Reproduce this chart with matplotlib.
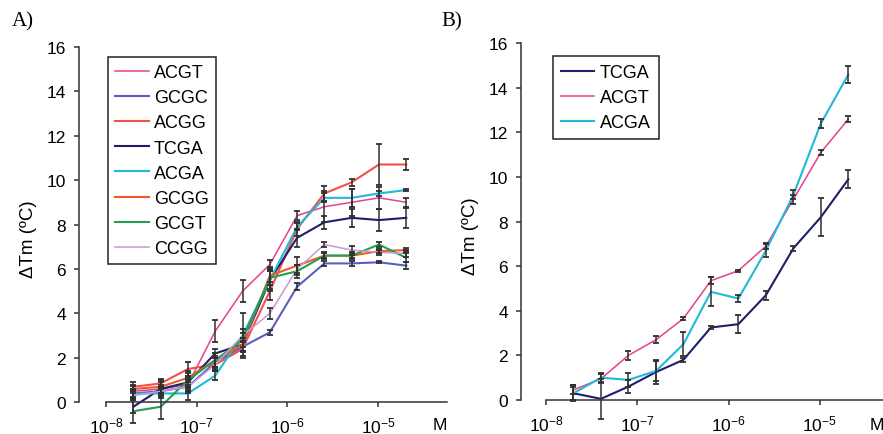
import matplotlib
matplotlib.use('Agg')
import matplotlib.pyplot as plt
from matplotlib.ticker import NullLocator, FixedLocator

plt.rcParams['font.family'] = ['Liberation Sans', 'DejaVu Sans']
plt.rcParams['mathtext.default'] = 'regular'

# ligand concentration (M), twofold dilutions
conc = [2e-8, 4e-8, 8e-8, 1.6e-7, 3.2e-7, 6.4e-7, 1.28e-6, 2.56e-6, 5.12e-6, 1.024e-5, 2.048e-5]

# panel A: dTm for each duplex
acgt_a = [0.5, 0.6, 0.8, 3.2, 5.0, 6.2, 8.4, 8.8, 9.0, 9.2, 9.0]
gcgc_a = [0.4, 0.5, 0.7, 1.8, 2.5, 3.15, 5.2, 6.25, 6.25, 6.3, 6.15]
acgg_a = [0.7, 0.85, 1.5, 1.7, 2.4, 5.0, 7.8, 9.4, 9.9, 10.7, 10.7]
tcga_a = [-0.2, 0.6, 0.9, 2.2, 2.6, 5.5, 7.4, 8.1, 8.3, 8.2, 8.3]
acga_a = [0.4, 0.4, 0.4, 1.2, 3.0, 5.5, 7.9, 9.2, 9.2, 9.4, 9.55]
gcgg_a = [0.6, 0.7, 1.1, 1.9, 2.6, 5.7, 6.15, 6.6, 6.6, 6.8, 6.85]
gcgt_a = [-0.4, -0.2, 1.0, 1.9, 2.8, 5.6, 5.9, 6.6, 6.6, 7.1, 6.5]
ccgg_a = [0.3, 0.5, 0.7, 1.7, 3.0, 4.0, 6.0, 7.1, 6.85, 6.75, 6.7]

acgt_a_err = [0.25, 0.2, 0.3, 0.5, 0.5, 0.2, 0.2, 0.7, 0.6, 0.5, 0.2]
gcgc_a_err = [0.2, 0.2, 0.3, 0.3, 0.25, 0.1, 0.15, 0.1, 0.1, 0.05, 0.15]
acgg_a_err = [0.2, 0.2, 0.3, 0.3, 0.3, 0.4, 0.3, 0.35, 0.15, 0.9, 0.25]
tcga_a_err = [0.3, 0.3, 0.3, 0.2, 0.3, 0.5, 0.4, 0.3, 0.4, 0.5, 0.45]
acga_a_err = [0.2, 0.2, 0.3, 0.2, 1.0, 0.4, 0.15, 0.2, 0.4, 0.1, 0.05]
gcgg_a_err = [0.2, 0.3, 0.3, 0.3, 0.3, 0.4, 0.4, 0.1, 0.1, 0.1, 0.1]
gcgt_a_err = [0.55, 0.55, 0.3, 0.3, 0.3, 0.3, 0.3, 0.15, 0.15, 0.1, 0.2]
ccgg_a_err = [0.2, 0.2, 0.2, 0.3, 0.3, 0.25, 0.2, 0.1, 0.2, 0.1, 0.15]

# panel B
tcga_b = [0.3, 0.05, 0.6, 1.25, 1.8, 3.25, 3.4, 4.7, 6.8, 8.2, 9.9]
acgt_b = [0.45, 0.95, 2.0, 2.7, 3.65, 5.35, 5.8, 6.9, 9.0, 11.1, 12.6]
acga_b = [0.3, 1.0, 0.9, 1.3, 2.5, 4.85, 4.55, 6.7, 9.2, 12.4, 14.6]

tcga_b_err = [0.35, 0.9, 0.3, 0.55, 0.1, 0.05, 0.4, 0.2, 0.1, 0.85, 0.4]
acgt_b_err = [0.2, 0.2, 0.2, 0.15, 0.05, 0.15, 0.05, 0.15, 0.2, 0.1, 0.15]
acga_b_err = [0.3, 0.2, 0.3, 0.45, 0.55, 0.65, 0.15, 0.3, 0.2, 0.2, 0.4]

colors = {
    'ACGT': '#e6408e',
    'GCGC': '#5a5fbf',
    'ACGG': '#f0524a',
    'TCGA': '#1e1e6e',
    'ACGA': '#22b8d8',
    'GCGG': '#f05a28',
    'GCGT': '#22a050',
    'CCGG': '#c79bd0',
}

panel_a = [('ACGT', acgt_a, acgt_a_err), ('GCGC', gcgc_a, gcgc_a_err),
           ('ACGG', acgg_a, acgg_a_err), ('TCGA', tcga_a, tcga_a_err),
           ('ACGA', acga_a, acga_a_err), ('GCGG', gcgg_a, gcgg_a_err),
           ('GCGT', gcgt_a, gcgt_a_err), ('CCGG', ccgg_a, ccgg_a_err)]
panel_b = [('TCGA', tcga_b, tcga_b_err), ('ACGT', acgt_b, acgt_b_err),
           ('ACGA', acga_b, acga_b_err)]

W, H = 883, 435
fig = plt.figure(figsize=(W / 100, H / 100), dpi=100)


def setup_axes(ax, xmin, xmax):
    ax.set_xscale('log')
    ax.set_xlim(xmin, xmax)
    ax.set_ylim(-1.2, 16)
    for s in ['top', 'right']:
        ax.spines[s].set_visible(False)
    ax.spines['left'].set_bounds(0, 16)
    ax.spines['bottom'].set_position(('data', 0))
    ax.spines['bottom'].set_bounds(1e-8, xmax)
    for s in ['left', 'bottom']:
        ax.spines[s].set_color('#333333')
        ax.spines[s].set_linewidth(1.1)
    ax.set_yticks(range(0, 17, 2))
    ax.xaxis.set_major_locator(FixedLocator([1e-8, 1e-7, 1e-6, 1e-5]))
    ax.xaxis.set_minor_locator(NullLocator())
    ax.set_xticklabels(['$10^{-8}$', '$10^{-7}$', '$10^{-6}$', '$10^{-5}$'])
    ax.tick_params(axis='both', labelsize=12.5, length=3.5, width=1.1,
                   color='#333333', direction='out')
    ax.tick_params(axis='x', pad=6)
    ax.tick_params(axis='y', pad=6)
    ax.set_ylabel('ΔTm (ºC)', fontsize=13.5, labelpad=7)
    ax.patch.set_visible(False)


def draw(ax, series):
    for name, y, err in series:
        lw = 1.1 if name in ('ACGT', 'CCGG') else 1.5
        ax.plot(conc, y, color=colors[name], lw=lw, label=name, zorder=2)
    for name, y, err in series:
        ax.errorbar(conc, y, yerr=err, fmt='none', ecolor='#303030',
                    elinewidth=1.1, capsize=2.5, capthick=1.3, zorder=3)


# panel A
axA = fig.add_axes([79 / W, 1 - 430 / H, 368 / W, (430 - 47.7) / H])
setup_axes(axA, 10 ** -8.298, 10 ** -4.24)
draw(axA, panel_a)
legA = axA.legend(loc='upper left', bbox_to_anchor=(0.079, 0.973),
                  borderaxespad=0, fontsize=13, handlelength=1.85,
                  handletextpad=0.3, labelspacing=0.45, borderpad=0.4,
                  fancybox=False, edgecolor='#222222', framealpha=1)
legA.get_frame().set_linewidth(1.1)

# panel B
axB = fig.add_axes([521 / W, 1 - 427.7 / H, 362 / W, (427.7 - 44.3) / H])
setup_axes(axB, 10 ** -8.274, 10 ** -4.309)
draw(axB, panel_b)
legB = axB.legend(loc='upper left', bbox_to_anchor=(0.0876, 0.967),
                  borderaxespad=0, fontsize=13, handlelength=1.85,
                  handletextpad=0.3, labelspacing=0.45, borderpad=0.45,
                  fancybox=False, edgecolor='#222222', framealpha=1)
legB.get_frame().set_linewidth(1.1)

# unit labels and panel letters
fig.text(440 / W, 1 - 426 / H, 'M', fontsize=12.5, ha='center', va='center')
fig.text(877 / W, 1 - 426 / H, 'M', fontsize=12.5, ha='center', va='center')
fig.text(12 / W, 1 - 22 / H, 'A)', fontsize=15, family='Liberation Serif',
         ha='left', va='center')
fig.text(441 / W, 1 - 22 / H, 'B)', fontsize=15, family='Liberation Serif',
         ha='left', va='center')

fig.savefig('out.png', dpi=100)
